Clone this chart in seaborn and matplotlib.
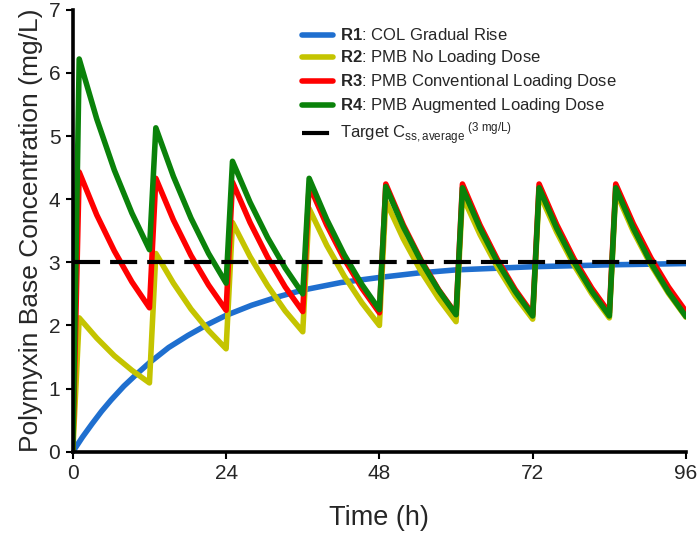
import numpy as np
import pandas as pd
import matplotlib
matplotlib.use("Agg")
import matplotlib.pyplot as plt
from matplotlib.lines import Line2D
import seaborn as sns

# ---- data ----
col_time = [0, 1.5, 3, 4.5, 6, 8, 10, 12, 15, 18, 21, 24, 28, 32, 36, 42, 48, 54, 60, 72, 84, 96]
r1_col = [0, 0.23, 0.44, 0.64, 0.82, 1.04, 1.23, 1.41, 1.65, 1.84, 2.01, 2.16, 2.32, 2.45,
          2.56, 2.68, 2.76, 2.83, 2.88, 2.93, 2.96, 2.98]

pmb_time = [0,
            1, 3.75, 6.5, 9.25, 12,
            13, 15.75, 18.5, 21.25, 24,
            25, 27.75, 30.5, 33.25, 36,
            37, 39.75, 42.5, 45.25, 48,
            49, 51.75, 54.5, 57.25, 60,
            61, 63.75, 66.5, 69.25, 72,
            73, 75.75, 78.5, 81.25, 84,
            85, 87.75, 90.5, 93.25, 96]
r2_no_load = [0,
              2.12, 1.80, 1.52, 1.29, 1.09,
              3.14, 2.67, 2.26, 1.92, 1.63,
              3.63, 3.09, 2.63, 2.23, 1.90,
              3.85, 3.27, 2.78, 2.36, 2.00,
              3.97, 3.37, 2.86, 2.43, 2.06,
              4.05, 3.44, 2.92, 2.47, 2.10,
              4.10, 3.48, 2.95, 2.50, 2.12,
              4.12, 3.49, 2.96, 2.51, 2.13]
r3_conv_load = [0,
                4.43, 3.75, 3.18, 2.69, 2.28,
                4.33, 3.67, 3.11, 2.64, 2.24,
                4.27, 3.63, 3.08, 2.61, 2.22,
                4.22, 3.59, 3.05, 2.59, 2.20,
                4.24, 3.59, 3.04, 2.57, 2.18,
                4.24, 3.59, 3.04, 2.57, 2.18,
                4.24, 3.60, 3.05, 2.59, 2.20,
                4.24, 3.61, 3.07, 2.61, 2.22]
r4_aug_load = [0,
               6.22, 5.27, 4.46, 3.78, 3.20,
               5.13, 4.36, 3.70, 3.14, 2.67,
               4.60, 3.95, 3.39, 2.91, 2.50,
               4.33, 3.68, 3.12, 2.65, 2.25,
               4.20, 3.56, 3.02, 2.56, 2.17,
               4.18, 3.54, 3.00, 2.54, 2.15,
               4.18, 3.54, 3.00, 2.54, 2.15,
               4.18, 3.54, 2.99, 2.53, 2.14]
target_css = 3.0

series_names = ["R1", "R2", "R3", "R4"]
legend_labels = [r"$\mathbf{R1}$: COL Gradual Rise",
                 r"$\mathbf{R2}$: PMB No Loading Dose",
                 r"$\mathbf{R3}$: PMB Conventional Loading Dose",
                 r"$\mathbf{R4}$: PMB Augmented Loading Dose",
                 r"Target C$_{\mathrm{ss,average}}$$^{\mathrm{\ (3\ mg/L)}}$"]
colors = {"R1": "#1f6fcf", "R2": "#c4c400", "R3": "#ff0000", "R4": "#0a820a"}
x_ticks = [0, 24, 48, 72, 96]
y_ticks = [0, 1, 2, 3, 4, 5, 6, 7]

df = pd.concat([
    pd.DataFrame({"t": col_time, "c": r1_col, "s": "R1"}),
    pd.DataFrame({"t": pmb_time, "c": r2_no_load, "s": "R2"}),
    pd.DataFrame({"t": pmb_time, "c": r3_conv_load, "s": "R3"}),
    pd.DataFrame({"t": pmb_time, "c": r4_aug_load, "s": "R4"}),
], ignore_index=True)

sns.set_theme(style="white")
plt.rcParams["font.family"] = ["Liberation Sans", "DejaVu Sans"]
plt.rcParams["mathtext.fontset"] = "custom"
plt.rcParams["mathtext.rm"] = "Liberation Sans"
plt.rcParams["mathtext.it"] = "Liberation Sans:italic"
plt.rcParams["mathtext.bf"] = "Liberation Sans:bold"

fig = plt.figure(figsize=(7.0, 5.41), dpi=100)
ax = fig.add_axes([0.104, 0.165, 0.876, 0.817])

LW = 4.0
sns.lineplot(data=df, x="t", y="c", hue="s", hue_order=series_names,
             palette=colors, linewidth=LW, legend=False, ax=ax,
             estimator=None, sort=False)
for ln in ax.get_lines():
    ln.set_solid_joinstyle("round")
    ln.set_solid_capstyle("round")
ax.axhline(target_css, color="black", linewidth=3.0, dashes=(6.5, 2.4), zorder=5)

ax.set_xlim(0, 96)
ax.set_ylim(0, 7)
ax.set_xticks(x_ticks)
ax.set_yticks(y_ticks)
ax.tick_params(axis="both", direction="out", length=5, width=1.5, color="black",
               labelsize=15, pad=4, bottom=True, left=True)
for s in ["top", "right"]:
    ax.spines[s].set_visible(False)
for s in ["left", "bottom"]:
    ax.spines[s].set_color("black")
    ax.spines[s].set_linewidth(2.6)

ax.set_xlabel("Time (h)", fontsize=19.5, labelpad=16)
ax.set_ylabel("Polymyxin Base Concentration (mg/L)", fontsize=19, labelpad=4)

handles = [Line2D([], [], color=colors[k], linewidth=LW) for k in series_names]
handles.append(Line2D([], [], color="black", linewidth=3.0, dashes=(6.5, 2.4)))
ax.legend(handles, legend_labels, loc="upper left", bbox_to_anchor=(0.363, 0.975),
          frameon=False, fontsize=12, handlelength=1.85, handletextpad=0.45,
          labelspacing=0.3, borderaxespad=0)

fig.savefig("out.png", dpi=100)
